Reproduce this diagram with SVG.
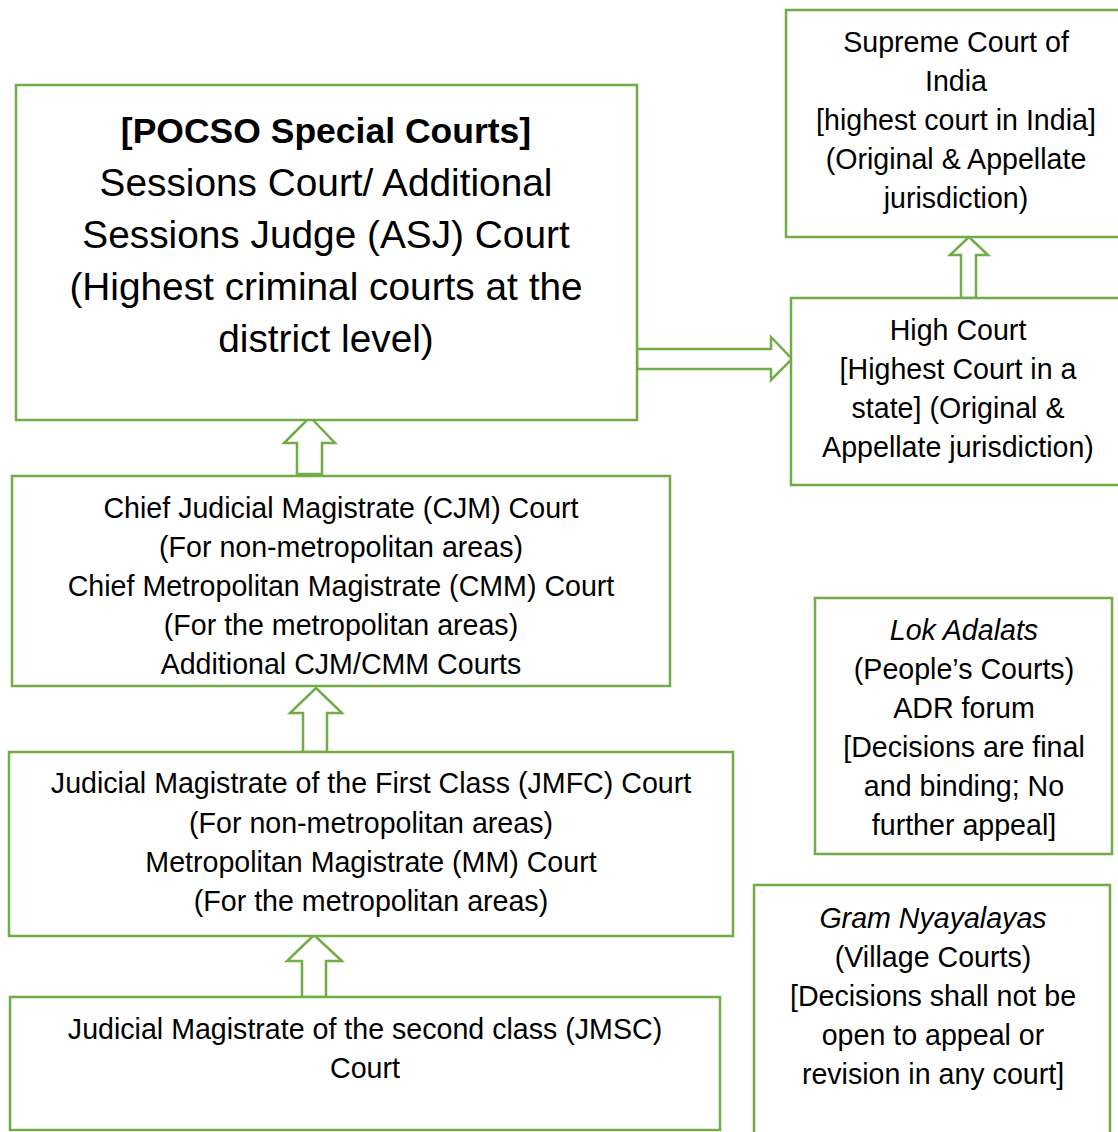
<svg xmlns="http://www.w3.org/2000/svg" width="1118" height="1132" viewBox="0 0 1118 1132">
<style>
.box{fill:#fff;stroke:#70AD47;stroke-width:2.5}
.arr{fill:#fff;stroke:#70AD47;stroke-width:2.5;stroke-linejoin:miter}
text{font-family:"Liberation Sans",Arial,sans-serif;fill:#000;text-anchor:middle}
.t{font-size:28.6px}
.big{font-size:38.8px}
.bold{font-weight:bold;font-size:35.5px}
.it{font-style:italic}
</style>
<rect width="1118" height="1132" fill="#fff"/>
<g id="connectors">
<polygon class="arr" points="637,349 771,349 771,337 792,359 771,380 771,369 637,369"/>
<polygon class="arr" points="297,474 297,443 284,443 310,417 335,443 322,443 322,474"/>
<polygon class="arr" points="961,298 961,255 950,255 969,237 988,255 976,255 976,298"/>
<polygon class="arr" points="303,752 303,713 290,713 316,688 342,713 327,713 327,752"/>
<polygon class="arr" points="302,997 302,961 287,961 314,935 342,961 326,961 326,997"/>
</g>
<g id="supreme">
<rect class="box" x="786" y="10" width="340" height="227"/>
<text class="t" x="956" y="52">Supreme Court of</text>
<text class="t" x="956" y="91">India</text>
<text class="t" x="956" y="130">[highest court in India]</text>
<text class="t" x="956" y="169">(Original &amp; Appellate</text>
<text class="t" x="956" y="208">jurisdiction)</text>
</g>
<g id="pocso">
<rect class="box" x="16" y="85" width="621" height="335"/>
<text class="bold" x="326" y="143">[POCSO Special Courts]</text>
<text class="big" x="326" y="196">Sessions Court/ Additional</text>
<text class="big" x="326" y="248">Sessions Judge (ASJ) Court</text>
<text class="big" x="326" y="300">(Highest criminal courts at the</text>
<text class="big" x="326" y="352">district level)</text>
</g>
<g id="high">
<rect class="box" x="791" y="298" width="335" height="187"/>
<text class="t" x="958" y="340">High Court</text>
<text class="t" x="958" y="379">[Highest Court in a</text>
<text class="t" x="958" y="418">state] (Original &amp;</text>
<text class="t" x="958" y="457">Appellate jurisdiction)</text>
</g>
<g id="cjm">
<rect class="box" x="12" y="476" width="658" height="210"/>
<text class="t" x="341" y="518">Chief Judicial Magistrate (CJM) Court</text>
<text class="t" x="341" y="557">(For non-metropolitan areas)</text>
<text class="t" x="341" y="596">Chief Metropolitan Magistrate (CMM) Court</text>
<text class="t" x="341" y="635">(For the metropolitan areas)</text>
<text class="t" x="341" y="674">Additional CJM/CMM Courts</text>
</g>
<g id="jmfc">
<rect class="box" x="9" y="752" width="724" height="184"/>
<text class="t" x="371" y="793">Judicial Magistrate of the First Class (JMFC) Court</text>
<text class="t" x="371" y="833">(For non-metropolitan areas)</text>
<text class="t" x="371" y="872">Metropolitan Magistrate (MM) Court</text>
<text class="t" x="371" y="911">(For the metropolitan areas)</text>
</g>
<g id="jmsc">
<rect class="box" x="10" y="997" width="710" height="133"/>
<text class="t" x="365" y="1039">Judicial Magistrate of the second class (JMSC)</text>
<text class="t" x="365" y="1078">Court</text>
</g>
<g id="lok">
<rect class="box" x="815" y="598" width="297" height="256"/>
<text class="t it" x="964" y="640">Lok Adalats</text>
<text class="t" x="964" y="679">(People’s Courts)</text>
<text class="t" x="964" y="718">ADR forum</text>
<text class="t" x="964" y="757">[Decisions are final</text>
<text class="t" x="964" y="796">and binding; No</text>
<text class="t" x="964" y="835">further appeal]</text>
</g>
<g id="gram">
<rect class="box" x="754" y="885" width="356" height="257"/>
<text class="t it" x="933" y="928">Gram Nyayalayas</text>
<text class="t" x="933" y="967">(Village Courts)</text>
<text class="t" x="933" y="1006">[Decisions shall not be</text>
<text class="t" x="933" y="1045">open to appeal or</text>
<text class="t" x="933" y="1084">revision in any court]</text>
</g>
</svg>
